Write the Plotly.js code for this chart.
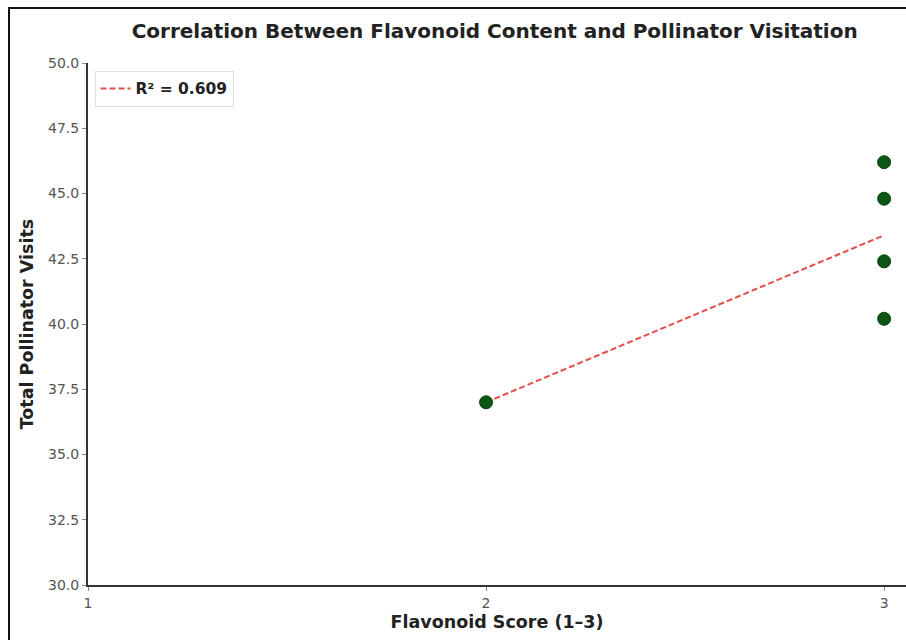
<!DOCTYPE html>
<html>
<head>
<meta charset="utf-8">
<script src="https://cdn.plot.ly/plotly-3.0.1.min.js"></script>
<style>
  html, body { margin: 0; padding: 0; background: #fff; overflow: hidden; }
  #chart { width: 906px; height: 640px; }
  #frame { position: absolute; left: 8px; top: 7px; width: 1000px; height: 1000px;
           border: 2px solid #111; pointer-events: none; }
</style>
</head>
<body>
<div id="chart"></div>
<div id="frame"></div>
<script>
// Data
const flavonoidScore = [2, 3, 3, 3, 3];
const pollinatorVisits = [37.0, 46.2, 44.8, 42.4, 40.2];
const xTicks = [1, 2, 3];
const yTicks = [30, 32.5, 35, 37.5, 40, 42.5, 45, 47.5, 50];

// Linear fit
const n = flavonoidScore.length;
const mx = flavonoidScore.reduce((a, b) => a + b, 0) / n;
const my = pollinatorVisits.reduce((a, b) => a + b, 0) / n;
let sxy = 0, sxx = 0, sst = 0;
for (let i = 0; i < n; i++) {
  sxy += (flavonoidScore[i] - mx) * (pollinatorVisits[i] - my);
  sxx += (flavonoidScore[i] - mx) ** 2;
  sst += (pollinatorVisits[i] - my) ** 2;
}
const slope = sxy / sxx;
const intercept = my - slope * mx;
let sse = 0;
for (let i = 0; i < n; i++) {
  sse += (pollinatorVisits[i] - (intercept + slope * flavonoidScore[i])) ** 2;
}
const r2 = 1 - sse / sst;
const fitX = [Math.min(...flavonoidScore), Math.max(...flavonoidScore)];
const fitY = fitX.map(x => intercept + slope * x);

const traces = [
  {
    x: fitX, y: fitY, mode: 'lines', type: 'scatter',
    name: 'R² = ' + r2.toFixed(3),
    line: { color: 'rgba(225,45,45,0.85)', width: 2, dash: '6px,3px' },
    showlegend: true
  },
  {
    x: flavonoidScore, y: pollinatorVisits, mode: 'markers', type: 'scatter',
    name: 'data', showlegend: false,
    marker: { color: '#0d5512', size: 13, line: { color: '#0a4510', width: 1 } }
  }
];

const layout = {
  width: 906, height: 640,
  margin: { l: 88, r: 0, t: 63, b: 55 },
  paper_bgcolor: '#fff', plot_bgcolor: '#fff',
  font: { family: 'DejaVu Sans, sans-serif', color: '#333' },
  title: {
    text: '<b>Correlation Between Flavonoid Content and Pollinator Visitation</b>',
    font: { family: 'DejaVu Sans, sans-serif', size: 20, color: '#222' },
    x: 0.546, xanchor: 'center', y: 0.952, yanchor: 'middle'
  },
  xaxis: {
    range: [1, 3.055], tickvals: xTicks, ticktext: xTicks.map(String),
    showgrid: false, zeroline: false,
    showline: true, linecolor: '#333', linewidth: 2,
    ticks: 'outside', ticklen: 4, tickcolor: '#888', tickwidth: 1,
    tickfont: { size: 14, color: '#555' },
    title: { text: '<b>Flavonoid Score (1–3)</b>', font: { size: 17.5, color: '#222' }, standoff: 6 }
  },
  yaxis: {
    range: [30, 50], tickvals: yTicks, ticktext: yTicks.map(v => v.toFixed(1)),
    showgrid: false, zeroline: false,
    showline: true, linecolor: '#333', linewidth: 2,
    ticks: 'outside', ticklen: 4, tickcolor: '#888', tickwidth: 1,
    tickfont: { size: 14, color: '#555' },
    title: { text: '<b>Total Pollinator Visits</b>', font: { size: 17.5, color: '#222' }, standoff: 10 }
  },
  legend: {
    x: 0.008, y: 0.985, xanchor: 'left', yanchor: 'top',
    bgcolor: 'rgba(255,255,255,0.9)', bordercolor: '#ddd', borderwidth: 1,
    font: { size: 15.5, color: '#222', weight: 'bold' }
  },
  showlegend: true
};

Plotly.newPlot('chart', traces, layout, { displayModeBar: false, staticPlot: true });
</script>
</body>
</html>
